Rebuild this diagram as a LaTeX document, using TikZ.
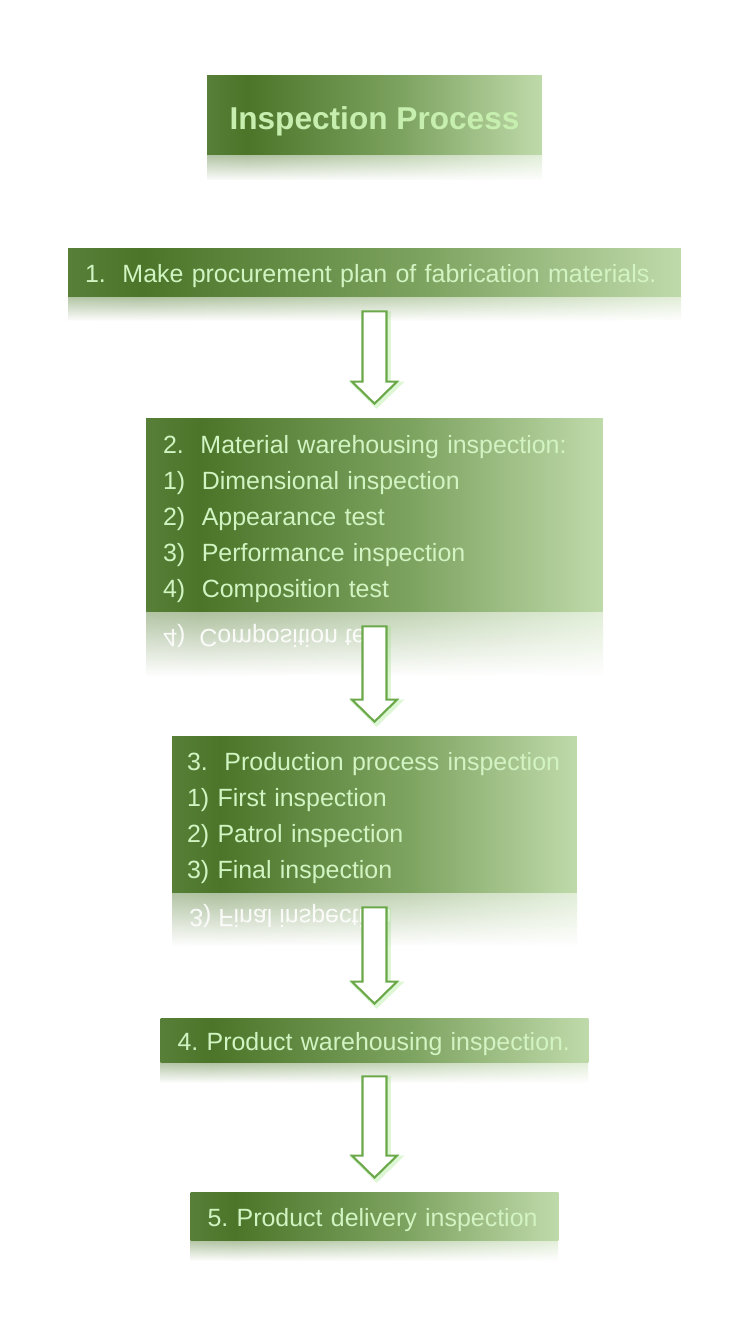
\documentclass[tikz,border=0pt]{standalone}
\usepackage{fontspec}
\setmainfont{Liberation Sans}
\usetikzlibrary{calc,fadings}

\definecolor{boxedge}{HTML}{577F38}
\definecolor{boxdark}{HTML}{4C7529}
\definecolor{boxmid}{HTML}{7DA360}
\definecolor{boxlight}{HTML}{BFDAAA}
\definecolor{steptext}{HTML}{D2F3C2}
\definecolor{titletext}{HTML}{C6EEAE}
\definecolor{arrowline}{HTML}{6AA84A}
\definecolor{arrowglow}{HTML}{9EE585}

\pgfdeclarehorizontalshading{stepshade}{100bp}{color(0bp)=(boxedge); color(25bp)=(boxedge); color(31bp)=(boxdark); color(54bp)=(boxmid); color(75bp)=(boxlight); color(100bp)=(boxlight)}
\tikzfading[name=reflfade, top color=transparent!45, bottom color=transparent!0]

\newcommand{\stepfont}{\fontsize{14.2}{20.5}\selectfont}
\newcommand{\titlefont}{\fontsize{18}{22}\selectfont\bfseries}
\frenchspacing

\begin{document}
\begin{tikzpicture}[x=0.02cm, y=-0.02cm,
  stepbox/.style={rectangle, shading=stepshade, text=steptext, font=\stepfont, inner sep=0pt,
    align=left, text height=11.5pt, text depth=0pt},
  reflcover/.style={fill=white, path fading=reflfade},
  refltext/.style={text=white, font=\stepfont, opacity=0.9, yscale=-1, transform shape, anchor=west, inner sep=0pt},
  flowarrow/.style={draw=arrowline, line width=1.2pt, fill=white,
    preaction={draw=arrowglow, line width=2.5pt, opacity=0.35, transform canvas={shift={(1.2pt,-1.2pt)}}}}]
\useasboundingbox (0,0) rectangle (750,1324);

% reflections under the boxes
\shade[shading=stepshade] (207,155) rectangle (542,180);
\shade[shading=stepshade] (68,297) rectangle (681,320);
\shade[shading=stepshade] (146,612) rectangle (603,675);
\node[refltext] (mir2) at (163,636) {4)~~Composition test};
\shade[shading=stepshade] (172,893) rectangle (577,945);
\node[refltext] (mir3) at (189,916) {3) Final inspection};
\shade[shading=stepshade] (160,1062) rectangle (588,1082);
\shade[shading=stepshade] (190,1240) rectangle (558,1260);
\foreach \ya/\yb/\xa/\xb in {155/180/207/542, 297/320/68/681, 612/675/146/603,
  893/945/172/577, 1062/1082/160/588, 1240/1260/190/558}
  \fill[reflcover] (\xa-1,\ya) rectangle (\xb+1,\yb+1);

% boxes
\node[stepbox, align=center, text=titletext, font=\titlefont, text height=17pt, minimum width=6.7cm, minimum height=1.6cm] (ins0) at (374.5,115) {Inspection Process};
\node[stepbox, minimum width=12.26cm, minimum height=0.98cm, text width=11.58cm] (ins1) at (374.5,272.5)
  {1.~~Make procurement plan of fabrication materials.};
\node[stepbox, minimum width=9.14cm, minimum height=3.88cm, text width=8.46cm,
  text height=0pt, text depth=70.3pt] (ins2) at (374.5,515)
  {2.~~Material warehousing inspection:\\1)~~Dimensional inspection\\2)~~Appearance test\\3)~~Performance inspection\\4)~~Composition test};
\node[stepbox, minimum width=8.1cm, minimum height=3.14cm, text width=7.5cm,
  text height=0pt, text depth=49.7pt] (ins3) at (374.5,814.5)
  {3.~~Production process inspection\\1) First inspection\\2) Patrol inspection\\3) Final inspection};
\node[stepbox, text height=12.5pt, minimum width=8.56cm, minimum height=0.88cm, text width=7.88cm] (ins4) at (374.5,1040)
  {4. Product warehousing inspection.};
\node[stepbox, minimum width=7.36cm, minimum height=0.96cm, text width=6.68cm] (ins5) at (374.5,1216)
  {5. Product delivery inspection};

% block arrows
\foreach \a/\b in {ins1/ins2, ins2/ins3, ins3/ins4, ins4/ins5}
  \draw[flowarrow] ($(\a.south)+(-12,14)$) -- ($(\a.south)+(12,14)$) -- ($(\b.north)+(12,-36)$)
    -- ($(\b.north)+(22.5,-36)$) -- ($(\b.north)+(0,-14)$) -- ($(\b.north)+(-22.5,-36)$)
    -- ($(\b.north)+(-12,-36)$) -- cycle;

\end{tikzpicture}
\end{document}
